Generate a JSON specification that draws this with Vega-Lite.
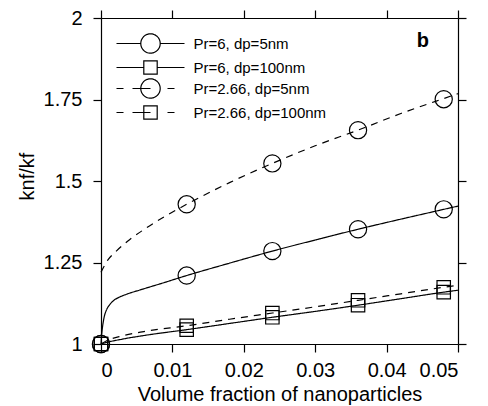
{
  "$schema": "https://vega.github.io/schema/vega-lite/v6.json",
  "width": 357,
  "height": 326,
  "autosize": {"type": "none"},
  "padding": {"left": 101, "top": 18, "right": 30, "bottom": 62},
  "background": "white",
  "config": {
    "view": {"stroke": null},
    "font": "Liberation Sans",
    "axis": {
      "domainColor": "black", "tickColor": "black", "labelColor": "black", "titleColor": "black",
      "labelFont": "Liberation Sans", "titleFont": "Liberation Sans",
      "labelFontSize": 20, "titleFontSize": 20, "titleFontWeight": "normal",
      "ticks": true, "tickSize": 8, "grid": false, "domainWidth": 1.2, "tickWidth": 1.2
    }
  },
  "title": {"text": "b", "anchor": "end", "frame": "group", "orient": "top", "offset": -43, "dx": -29, "fontSize": 20, "fontWeight": "bold", "font": "Liberation Sans", "color": "black"},
  "datasets": {
    "curves": [
      {"series": "Pr=6, dp=5nm", "x": 0, "y": 1},
      {"series": "Pr=6, dp=5nm", "x": 0.0001, "y": 1.03},
      {"series": "Pr=6, dp=5nm", "x": 0.0002, "y": 1.05},
      {"series": "Pr=6, dp=5nm", "x": 0.0004, "y": 1.078},
      {"series": "Pr=6, dp=5nm", "x": 0.0008, "y": 1.106},
      {"series": "Pr=6, dp=5nm", "x": 0.0012, "y": 1.12},
      {"series": "Pr=6, dp=5nm", "x": 0.0017, "y": 1.132},
      {"series": "Pr=6, dp=5nm", "x": 0.0025, "y": 1.143},
      {"series": "Pr=6, dp=5nm", "x": 0.0035, "y": 1.152},
      {"series": "Pr=6, dp=5nm", "x": 0.0055, "y": 1.166},
      {"series": "Pr=6, dp=5nm", "x": 0.0085, "y": 1.186},
      {"series": "Pr=6, dp=5nm", "x": 0.012, "y": 1.21},
      {"series": "Pr=6, dp=5nm", "x": 0.018, "y": 1.248},
      {"series": "Pr=6, dp=5nm", "x": 0.024, "y": 1.285},
      {"series": "Pr=6, dp=5nm", "x": 0.03, "y": 1.319},
      {"series": "Pr=6, dp=5nm", "x": 0.036, "y": 1.352},
      {"series": "Pr=6, dp=5nm", "x": 0.042, "y": 1.383},
      {"series": "Pr=6, dp=5nm", "x": 0.048, "y": 1.413},
      {"series": "Pr=6, dp=5nm", "x": 0.05, "y": 1.423},
      {"series": "Pr=6, dp=100nm", "x": 0, "y": 1},
      {"series": "Pr=6, dp=100nm", "x": 0.001, "y": 1.006},
      {"series": "Pr=6, dp=100nm", "x": 0.003, "y": 1.015},
      {"series": "Pr=6, dp=100nm", "x": 0.006, "y": 1.026},
      {"series": "Pr=6, dp=100nm", "x": 0.012, "y": 1.044},
      {"series": "Pr=6, dp=100nm", "x": 0.018, "y": 1.063},
      {"series": "Pr=6, dp=100nm", "x": 0.024, "y": 1.082},
      {"series": "Pr=6, dp=100nm", "x": 0.03, "y": 1.1},
      {"series": "Pr=6, dp=100nm", "x": 0.036, "y": 1.119},
      {"series": "Pr=6, dp=100nm", "x": 0.042, "y": 1.139},
      {"series": "Pr=6, dp=100nm", "x": 0.048, "y": 1.159},
      {"series": "Pr=6, dp=100nm", "x": 0.05, "y": 1.165},
      {"series": "Pr=2.66, dp=5nm", "x": 0, "y": 1.22},
      {"series": "Pr=2.66, dp=5nm", "x": 0.001, "y": 1.259},
      {"series": "Pr=2.66, dp=5nm", "x": 0.002, "y": 1.282},
      {"series": "Pr=2.66, dp=5nm", "x": 0.004, "y": 1.32},
      {"series": "Pr=2.66, dp=5nm", "x": 0.006, "y": 1.351},
      {"series": "Pr=2.66, dp=5nm", "x": 0.009, "y": 1.392},
      {"series": "Pr=2.66, dp=5nm", "x": 0.012, "y": 1.4285},
      {"series": "Pr=2.66, dp=5nm", "x": 0.018, "y": 1.495},
      {"series": "Pr=2.66, dp=5nm", "x": 0.024, "y": 1.554},
      {"series": "Pr=2.66, dp=5nm", "x": 0.03, "y": 1.608},
      {"series": "Pr=2.66, dp=5nm", "x": 0.036, "y": 1.656},
      {"series": "Pr=2.66, dp=5nm", "x": 0.042, "y": 1.707},
      {"series": "Pr=2.66, dp=5nm", "x": 0.048, "y": 1.753},
      {"series": "Pr=2.66, dp=5nm", "x": 0.05, "y": 1.768},
      {"series": "Pr=2.66, dp=100nm", "x": 0, "y": 1},
      {"series": "Pr=2.66, dp=100nm", "x": 0.001, "y": 1.012},
      {"series": "Pr=2.66, dp=100nm", "x": 0.003, "y": 1.025},
      {"series": "Pr=2.66, dp=100nm", "x": 0.006, "y": 1.038},
      {"series": "Pr=2.66, dp=100nm", "x": 0.012, "y": 1.056},
      {"series": "Pr=2.66, dp=100nm", "x": 0.018, "y": 1.076},
      {"series": "Pr=2.66, dp=100nm", "x": 0.024, "y": 1.095},
      {"series": "Pr=2.66, dp=100nm", "x": 0.03, "y": 1.114},
      {"series": "Pr=2.66, dp=100nm", "x": 0.036, "y": 1.134},
      {"series": "Pr=2.66, dp=100nm", "x": 0.042, "y": 1.154},
      {"series": "Pr=2.66, dp=100nm", "x": 0.048, "y": 1.174},
      {"series": "Pr=2.66, dp=100nm", "x": 0.05, "y": 1.18}
    ],
    "markers": [
      {"series": "Pr=6, dp=5nm", "x": 0, "y": 1},
      {"series": "Pr=6, dp=5nm", "x": 0.012, "y": 1.21},
      {"series": "Pr=6, dp=5nm", "x": 0.024, "y": 1.285},
      {"series": "Pr=6, dp=5nm", "x": 0.036, "y": 1.352},
      {"series": "Pr=6, dp=5nm", "x": 0.048, "y": 1.413},
      {"series": "Pr=6, dp=100nm", "x": 0, "y": 1},
      {"series": "Pr=6, dp=100nm", "x": 0.012, "y": 1.044},
      {"series": "Pr=6, dp=100nm", "x": 0.024, "y": 1.082},
      {"series": "Pr=6, dp=100nm", "x": 0.036, "y": 1.119},
      {"series": "Pr=6, dp=100nm", "x": 0.048, "y": 1.159},
      {"series": "Pr=2.66, dp=5nm", "x": 0, "y": 1},
      {"series": "Pr=2.66, dp=5nm", "x": 0.012, "y": 1.4285},
      {"series": "Pr=2.66, dp=5nm", "x": 0.024, "y": 1.554},
      {"series": "Pr=2.66, dp=5nm", "x": 0.036, "y": 1.656},
      {"series": "Pr=2.66, dp=5nm", "x": 0.048, "y": 1.751},
      {"series": "Pr=2.66, dp=100nm", "x": 0, "y": 1},
      {"series": "Pr=2.66, dp=100nm", "x": 0.012, "y": 1.056},
      {"series": "Pr=2.66, dp=100nm", "x": 0.024, "y": 1.095},
      {"series": "Pr=2.66, dp=100nm", "x": 0.036, "y": 1.134},
      {"series": "Pr=2.66, dp=100nm", "x": 0.048, "y": 1.174}
    ]
  },
  "layer": [
    {
      "data": {"name": "curves"},
      "mark": {"type": "line", "strokeWidth": 1.2, "interpolate": "monotone"},
      "encoding": {
        "x": {"field": "x", "type": "quantitative",
          "scale": {"domain": [0, 0.05], "nice": false, "zero": false},
          "axis": {"orient": "bottom", "values": [0, 0.01, 0.02, 0.03, 0.04, 0.05], "format": ".3~g", "ticks": true, "tickSize": 8, "labelPadding": 8, "title": "Volume fraction of nanoparticles", "titlePadding": 4}},
        "y": {"field": "y", "type": "quantitative",
          "scale": {"domain": [1, 2], "nice": false, "zero": false},
          "axis": {"orient": "left", "values": [1, 1.25, 1.5, 1.75, 2], "format": ".3~g", "ticks": true, "tickSize": 8, "labelPadding": 11, "title": "knf/kf", "titlePadding": 6, "titleY": 158}},
        "strokeDash": {"condition": {"test": {"field": "series", "oneOf": ["Pr=2.66, dp=5nm", "Pr=2.66, dp=100nm"]}, "value": [7, 6]}, "value": [1, 0]},
        "color": {"field": "series", "type": "nominal",
          "scale": {"domain": ["Pr=6, dp=5nm", "Pr=6, dp=100nm", "Pr=2.66, dp=5nm", "Pr=2.66, dp=100nm"], "range": ["black", "black", "black", "black"]},
          "legend": {
            "title": null, "orient": "none", "legendX": 38.5, "legendY": 14.5, "padding": 0,
            "symbolSize": 400, "symbolStrokeWidth": 1.2, "symbolStrokeColor": "black", "symbolFillColor": "transparent", "symbolDash": [1, 0],
            "labelFont": "Liberation Sans", "labelFontSize": 15, "labelColor": "black", "labelOffset": 32, "rowPadding": -6,
            "encode": {"symbols": {"update": {
              "shape": {"signal": "datum.value === 'Pr=6, dp=5nm' ? 'M-3.4,0H-0.97M0.97,0H3.4M0.97,0A0.97,0.97,0,1,1,-0.97,0A0.97,0.97,0,1,1,0.97,0' : datum.value === 'Pr=6, dp=100nm' ? 'M-3.4,0H-0.67M0.67,0H3.4M-0.67,-0.67H0.67V0.67H-0.67Z' : datum.value === 'Pr=2.66, dp=5nm' ? 'M-3.4,0H-2.7M-1.8,0H0M1.7,0H2.4M0.97,0A0.97,0.97,0,1,1,-0.97,0A0.97,0.97,0,1,1,0.97,0' : 'M-3.4,0H-2.7M-1.8,0H0M1.7,0H2.4M-0.67,-0.67H0.67V0.67H-0.67Z'"},
              "size": {"value": 400},
              "stroke": {"value": "black"},
              "fill": {"value": "transparent"},
              "strokeWidth": {"value": 1.2}
            }}}
          }}
      }
    },
    {
      "data": {"name": "markers"},
      "mark": {"type": "point", "filled": false, "stroke": "black", "strokeWidth": 1.2, "opacity": 1},
      "encoding": {
        "x": {"field": "x", "type": "quantitative", "axis": {"orient": "top", "labels": false, "title": null, "ticks": true, "tickSize": 8, "values": [0, 0.01, 0.02, 0.03, 0.04, 0.05]}},
        "y": {"field": "y", "type": "quantitative", "axis": {"orient": "right", "labels": false, "title": null, "ticks": true, "tickSize": 8, "values": [1, 1.25, 1.5, 1.75, 2]}},
        "shape": {"condition": {"test": {"field": "series", "oneOf": ["Pr=6, dp=5nm", "Pr=2.66, dp=5nm"]}, "value": "circle"}, "value": "square"},
        "size": {"condition": {"test": {"field": "series", "oneOf": ["Pr=6, dp=5nm", "Pr=2.66, dp=5nm"]}, "value": 296}, "value": 180}
      }
    }
  ],
  "resolve": {"axis": {"x": "independent", "y": "independent"}}
}
